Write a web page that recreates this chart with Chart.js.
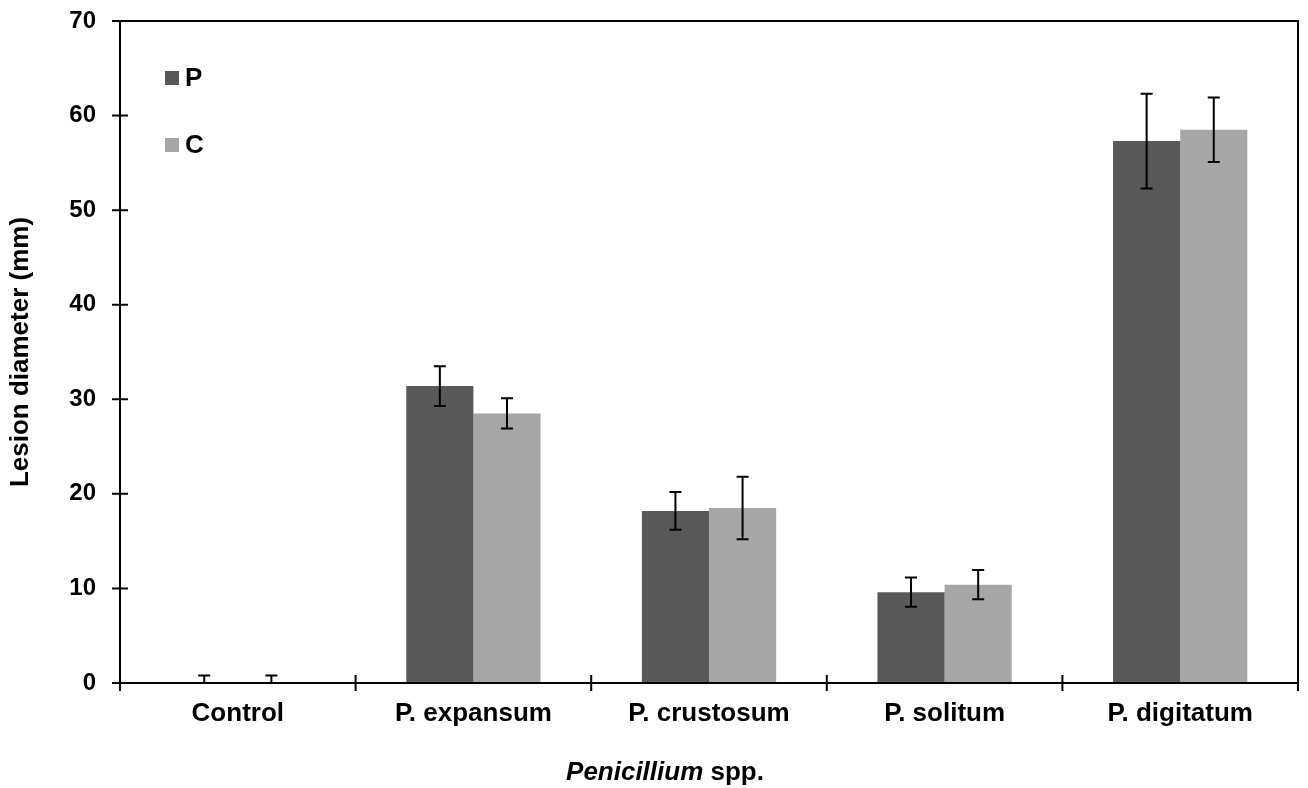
<!DOCTYPE html>
<html>
<head>
<meta charset="utf-8">
<script src="https://cdn.jsdelivr.net/npm/chart.js@4.4.1/dist/chart.umd.min.js"></script>
<style>
html,body{margin:0;padding:0;background:#fff;}
#wrap{width:1308px;height:788px;position:relative;}
</style>
</head>
<body>
<div id="wrap"><canvas id="c" width="1308" height="788"></canvas></div>
<script>
const categories = ["Control", "P. expansum", "P. crustosum", "P. solitum", "P. digitatum"];
const seriesNames = ["P", "C"];
const valuesP = [0, 31.4, 18.2, 9.6, 57.3];
const valuesC = [0, 28.5, 18.5, 10.4, 58.5];
const errorsP = [0.8, 2.1, 2.0, 1.55, 5.0];
const errorsC = [0.8, 1.6, 3.3, 1.55, 3.4];
const yTicks = [0, 10, 20, 30, 40, 50, 60, 70];
const yTitle = "Lesion diameter (mm)";
const xTitleItalic = "Penicillium";
const xTitleRest = " spp.";

const FONT = "'Liberation Sans', Arial, sans-serif";
const colors = ["#595959", "#a6a6a6"];
const errs = [errorsP, errorsC];

const framePlugin = {
  id: 'frame',
  afterDatasetsDraw(chart) {
    const ctx = chart.ctx, a = chart.chartArea;
    const ys = chart.scales.y;
    ctx.save();
    // error bars
    ctx.save();
    ctx.beginPath();
    ctx.rect(a.left, a.top - 5, a.right - a.left, a.bottom - a.top + 5);
    ctx.clip();
    ctx.strokeStyle = '#000';
    ctx.lineWidth = 2;
    chart.data.datasets.forEach((ds, di) => {
      const meta = chart.getDatasetMeta(di);
      meta.data.forEach((bar, i) => {
        const v = ds.data[i], e = errs[di][i];
        const x = bar.x;
        const yt = ys.getPixelForValue(v + e), yb = ys.getPixelForValue(v - e);
        ctx.beginPath();
        ctx.moveTo(x, yt); ctx.lineTo(x, yb);
        ctx.moveTo(x - 6, yt); ctx.lineTo(x + 6, yt);
        ctx.moveTo(x - 6, yb); ctx.lineTo(x + 6, yb);
        ctx.stroke();
      });
    });
    ctx.restore();
    // frame
    ctx.strokeStyle = '#000';
    ctx.lineWidth = 2;
    ctx.strokeRect(a.left, a.top, a.right - a.left, a.bottom - a.top);
    // y ticks crossing
    ctx.beginPath();
    yTicks.forEach(t => {
      const y = ys.getPixelForValue(t);
      ctx.moveTo(a.left - 8, y); ctx.lineTo(a.left + 8, y);
    });
    // x ticks at category boundaries
    const n = categories.length;
    const w = (a.right - a.left) / n;
    for (let i = 0; i <= n; i++) {
      const x = a.left + i * w;
      ctx.moveTo(x, a.bottom - 8); ctx.lineTo(x, a.bottom + 8);
    }
    ctx.stroke();
    // legend
    ctx.font = "bold 26px " + FONT;
    ctx.textBaseline = 'middle';
    ctx.textAlign = 'left';
    const legY = [78, 145];
    chart.data.datasets.forEach((ds, di) => {
      ctx.fillStyle = colors[di];
      ctx.fillRect(165, legY[di] - 7, 14, 14);
      ctx.fillStyle = '#000';
      ctx.fillText(ds.label, 185, legY[di] + 1);
    });
    // x title
    ctx.font = "italic bold 26px " + FONT;
    const w1 = ctx.measureText(xTitleItalic).width;
    ctx.font = "bold 26px " + FONT;
    const w2 = ctx.measureText(xTitleRest).width;
    const cx = 665;
    let sx = cx - (w1 + w2) / 2;
    ctx.fillStyle = '#000';
    ctx.textBaseline = 'middle';
    ctx.font = "italic bold 26px " + FONT;
    ctx.fillText(xTitleItalic, sx, 773);
    ctx.font = "bold 26px " + FONT;
    ctx.fillText(xTitleRest, sx + w1, 773);
    ctx.restore();
  }
};

new Chart(document.getElementById('c'), {
  type: 'bar',
  data: {
    labels: categories,
    datasets: [
      { label: seriesNames[0], data: valuesP, backgroundColor: colors[0], borderWidth: 0, categoryPercentage: 0.57, barPercentage: 1.0 },
      { label: seriesNames[1], data: valuesC, backgroundColor: colors[1], borderWidth: 0, categoryPercentage: 0.57, barPercentage: 1.0 }
    ]
  },
  options: {
    responsive: false,
    animation: false,
    layout: { padding: { left: 0, right: 10, top: 21, bottom: 0 } },
    plugins: { legend: { display: false }, tooltip: { enabled: false } },
    scales: {
      x: {
        grid: { display: false, drawTicks: false },
        border: { display: false },
        ticks: { color: '#000', font: { family: FONT, size: 26, weight: 'bold' }, padding: 15, maxRotation: 0, autoSkip: false },
        afterFit(s) { s.height = 105; s.paddingLeft = 0; s.paddingRight = 0; }
      },
      y: {
        min: 0, max: 70,
        grid: { display: false, drawTicks: false },
        border: { display: false },
        ticks: { stepSize: 10, color: '#000', font: { family: FONT, size: 24, weight: 'bold' }, padding: 24 },
        title: { display: true, text: yTitle, color: '#000', font: { family: FONT, size: 26, weight: 'bold' }, padding: { top: 5, bottom: 0 } },
        afterFit(s) { s.width = 120; s.paddingTop = 0; s.paddingBottom = 0; }
      }
    }
  },
  plugins: [framePlugin]
});
</script>
</body>
</html>
